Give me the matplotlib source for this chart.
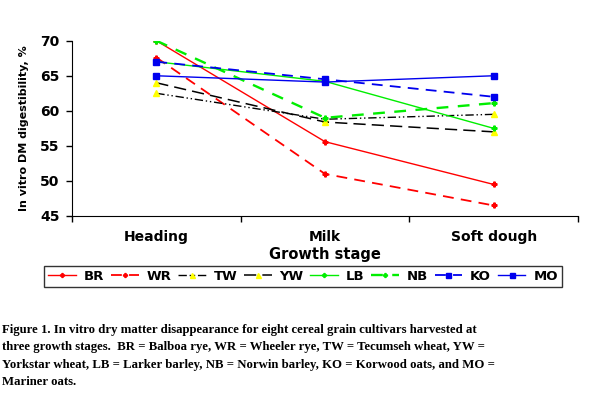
import matplotlib
matplotlib.use("Agg")
import matplotlib.pyplot as plt

stages = ["Heading", "Milk", "Soft dough"]
BR = [70.0, 55.6, 49.5]
WR = [67.6, 51.0, 46.5]
TW = [62.5, 58.8, 59.5]
YW = [64.0, 58.4, 57.0]
LB = [67.0, 64.2, 57.5]
NB = [70.0, 59.0, 61.1]
KO = [67.0, 64.5, 62.0]
MO = [65.0, 64.1, 65.0]
yticks = [45, 50, 55, 60, 65, 70]
caption = ("Figure 1. In vitro dry matter disappearance for eight cereal grain cultivars harvested at\n"
           "three growth stages.  BR = Balboa rye, WR = Wheeler rye, TW = Tecumseh wheat, YW =\n"
           "Yorkstar wheat, LB = Larker barley, NB = Norwin barley, KO = Korwood oats, and MO =\n"
           "Mariner oats.")

fig = plt.figure(figsize=(6.01, 3.95), dpi=100)
ax = fig.add_axes([72/601, 1-216/395, (578-72)/601, (216-40.7)/395])

x = [0, 1, 2]
series = [
    ("BR", BR, dict(color="red", ls="-", lw=1.0, marker="P", ms=3.5, mfc="red", mec="red")),
    ("WR", WR, dict(color="red", ls=(0, (6, 4)), lw=1.3, marker="P", ms=3.5, mfc="red", mec="red")),
    ("TW", TW, dict(color="black", ls=(0, (6, 2, 1, 2, 1, 2)), lw=1.0, marker="^", ms=4.5, mfc="yellow", mec="yellow")),
    ("YW", YW, dict(color="black", ls=(0, (8, 4)), lw=1.1, marker="^", ms=4.5, mfc="yellow", mec="yellow")),
    ("LB", LB, dict(color="#00ee00", ls="-", lw=1.0, marker="P", ms=3.5, mfc="#00ee00", mec="#00ee00")),
    ("NB", NB, dict(color="#00ee00", ls=(0, (5, 4)), lw=1.7, marker="P", ms=3.5, mfc="#00ee00", mec="#00ee00")),
    ("KO", KO, dict(color="#0000ee", ls=(0, (6, 4)), lw=1.3, marker="s", ms=4.5, mfc="#0000ee", mec="#0000ee")),
    ("MO", MO, dict(color="#0000ee", ls="-", lw=1.0, marker="s", ms=4.5, mfc="#0000ee", mec="#0000ee")),
]
handles = []
for name, vals, st in series:
    h, = ax.plot(x, vals, label=name, **st)
    handles.append(h)

ax.set_xlim(-0.5, 2.5)
ax.set_ylim(45, 70)
ax.set_yticks(yticks)
ax.set_yticklabels([str(v) for v in yticks], fontweight="bold", fontsize=10)
ax.set_xticks([-0.5, 0.5, 1.5, 2.5])
ax.set_xticklabels([])
ax.set_xticks(x, minor=True)
ax.set_xticklabels(stages, minor=True, fontweight="bold", fontsize=10)
ax.tick_params(axis="x", which="minor", length=0, pad=10)
ax.tick_params(axis="x", which="major", length=4, width=1, direction="out")
ax.tick_params(axis="y", length=4, width=1, direction="out", pad=5)
ax.spines["top"].set_visible(False)
ax.spines["right"].set_visible(False)
ax.set_xlabel("Growth stage", fontweight="bold", fontsize=10.5, labelpad=2)
ax.set_ylabel("In vitro DM digestibility, %", fontweight="bold", fontsize=8, labelpad=8)

fig.legend(handles=handles, labels=[s[0] for s in series], ncol=8,
           loc="center", bbox_to_anchor=(303/601, 1-276.5/395),
           frameon=True, fancybox=False, edgecolor="black",
           prop=dict(weight="bold", size=9.5), handlelength=2.1,
           handletextpad=0.6, columnspacing=0.5, borderpad=0.3,
           markerscale=0.8, borderaxespad=0)

fig.text(2/601, 1-324/395, caption, ha="left", va="top",
         family="Liberation Serif", fontweight="bold", fontsize=9.2,
         linespacing=1.6)

fig.savefig("out.png", dpi=100)
